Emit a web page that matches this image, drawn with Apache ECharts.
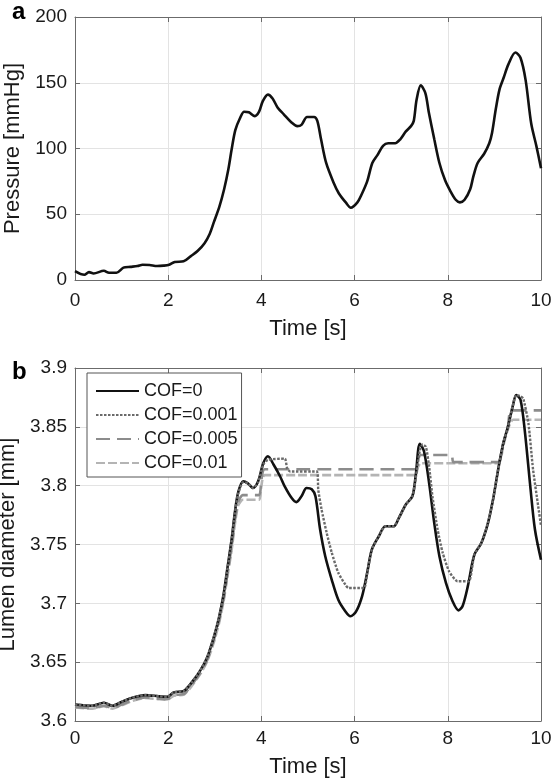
<!DOCTYPE html>
<html>
<head>
<meta charset="utf-8">
<script src="https://cdn.jsdelivr.net/npm/echarts@6/dist/echarts.min.js"></script>
<style>
html,body{margin:0;padding:0;background:#fff;}
#chart{width:551px;height:782px;}
</style>
</head>
<body>
<div id="chart"></div>
<script>
// ---------- data ----------
const xTicks = [0, 2, 4, 6, 8, 10];
const pressureTicks = [0, 50, 100, 150, 200];
const diameterTicks = [3.6, 3.65, 3.7, 3.75, 3.8, 3.85, 3.9];

const pressureTime = [0,0.2,0.3,0.4,0.62,0.73,0.89,1.04,1.19,1.34,1.45,1.6,1.76,1.9,2.02,2.14,2.33,2.48,2.63,2.78,2.89,2.98,3.1,3.2,3.29,3.36,3.44,3.54,3.63,3.73,3.86,3.95,4.03,4.14,4.24,4.35,4.48,4.64,4.77,4.86,4.98,5.13,5.2,5.28,5.39,5.55,5.66,5.81,5.92,6.06,6.15,6.27,6.38,6.49,6.61,6.72,6.87,6.98,7.1,7.21,7.27,7.33,7.42,7.52,7.59,7.71,7.82,7.94,8.05,8.17,8.26,8.36,8.48,8.55,8.64,8.78,8.89,8.95,9.03,9.11,9.2,9.3,9.45,9.56,9.67,9.79,9.9,10];
const pressureValues = [6.8,4,6,5,7,5.5,5.5,9.4,10,10.6,11.6,11.4,10.6,10.9,11.6,13.7,14.2,18,22,28,35,44,56,69,84,99,114,123,128,127.6,124.6,128,136,141,138,131,126,120,117,118,124,124,121,107,89,74,66,59,55,59,65,75,89,95,102,104,104,107,113,117,121,137,148,142,128,107,89,76,68,61,59,61,69,79,89,96,104,112,130,145,154,164,173,169,152,119,102,85];

const cof0Time = [0,0.37,0.62,0.8,1.01,1.23,1.51,1.8,1.98,2.12,2.34,2.51,2.69,2.84,2.98,3.09,3.19,3.26,3.36,3.43,3.5,3.61,3.71,3.82,3.93,4.04,4.14,4.26,4.4,4.5,4.65,4.75,4.86,4.97,5.08,5.16,5.26,5.37,5.51,5.65,5.8,5.91,6.03,6.16,6.27,6.37,6.52,6.66,6.84,6.95,7.1,7.24,7.31,7.4,7.49,7.6,7.71,7.82,7.96,8.1,8.23,8.32,8.43,8.57,8.72,8.86,8.97,9.08,9.19,9.29,9.39,9.47,9.56,9.65,9.77,9.87,10];
const cof0Values = [3.614,3.613,3.6155,3.613,3.6164,3.6198,3.622,3.621,3.6206,3.6243,3.6257,3.633,3.643,3.6545,3.6715,3.688,3.708,3.727,3.754,3.777,3.794,3.8037,3.802,3.798,3.8037,3.819,3.825,3.818,3.808,3.7994,3.7895,3.786,3.791,3.798,3.797,3.791,3.7627,3.74,3.72,3.703,3.6933,3.689,3.693,3.706,3.726,3.7457,3.757,3.7655,3.7655,3.7726,3.784,3.791,3.808,3.8356,3.829,3.802,3.768,3.74,3.7174,3.702,3.694,3.698,3.7146,3.7414,3.7513,3.768,3.788,3.8136,3.836,3.85,3.867,3.877,3.873,3.8475,3.7994,3.7627,3.737];

const cof001Time = [0,0.37,0.62,0.8,1.01,1.23,1.51,1.8,1.98,2.12,2.34,2.51,2.69,2.84,2.98,3.09,3.19,3.26,3.36,3.43,3.5,3.61,3.71,3.82,3.93,4.04,4.14,4.5,4.55,4.62,5.19,5.22,5.29,5.4,5.51,5.65,5.8,5.87,6.2,6.27,6.37,6.52,6.66,6.84,6.95,7.1,7.24,7.31,7.4,7.46,7.53,7.6,7.67,7.78,7.89,8.03,8.21,8.45,8.57,8.72,8.86,8.97,9.08,9.19,9.29,9.39,9.47,9.56,9.62,9.73,9.83,9.94,10];
const cof001Values = [3.614,3.613,3.6155,3.613,3.6164,3.6198,3.622,3.621,3.6206,3.6243,3.6257,3.633,3.643,3.6545,3.6715,3.688,3.707,3.726,3.753,3.776,3.793,3.803,3.802,3.798,3.803,3.818,3.822,3.823,3.815,3.812,3.812,3.7966,3.78,3.76,3.743,3.726,3.716,3.713,3.713,3.726,3.7457,3.757,3.7655,3.7655,3.7726,3.784,3.791,3.806,3.83,3.835,3.833,3.816,3.791,3.763,3.743,3.727,3.7188,3.7188,3.7414,3.7513,3.768,3.788,3.8136,3.836,3.85,3.867,3.877,3.876,3.874,3.853,3.8136,3.7825,3.766];

const cof005Time = [0,0.37,0.62,0.8,1.01,1.23,1.51,1.8,1.98,2.12,2.34,2.51,2.69,2.84,2.98,3.09,3.19,3.26,3.36,3.43,3.5,3.6,3.95,4.0,4.07,7.3,7.36,7.42,8.08,8.12,9.08,9.19,9.29,9.36,10];
const cof005Values = [3.612,3.611,3.613,3.611,3.614,3.6175,3.62,3.619,3.6185,3.622,3.623,3.631,3.641,3.652,3.669,3.685,3.704,3.722,3.748,3.77,3.786,3.792,3.792,3.805,3.814,3.814,3.822,3.826,3.826,3.82,3.82,3.836,3.85,3.864,3.864];

const cof01Time = [0,0.37,0.62,0.8,1.01,1.23,1.51,1.8,1.98,2.12,2.34,2.51,2.69,2.84,2.98,3.09,3.19,3.26,3.36,3.43,3.5,3.6,3.95,4.0,4.07,7.3,7.36,7.42,9.08,9.19,9.29,9.4,10];
const cof01Values = [3.6115,3.6105,3.6125,3.6105,3.6135,3.617,3.6195,3.6185,3.618,3.6215,3.6225,3.63,3.64,3.651,3.667,3.683,3.702,3.72,3.745,3.767,3.783,3.788,3.788,3.8,3.809,3.809,3.816,3.819,3.819,3.834,3.848,3.856,3.856];

const legendNames = ['COF=0', 'COF=0.001', 'COF=0.005', 'COF=0.01'];

// ---------- chart ----------
const pair = (t, v) => t.map((x, i) => [x, v[i]]);
const FONT = 'Liberation Sans, Arial, Helvetica, sans-serif';
const AX = '#6b6b6b';
const TXT = '#1a1a1a';

function xAxisMain(gridIndex, labelMargin, nameGap) {
  return {
    type: 'value', gridIndex, min: xTicks[0], max: xTicks[xTicks.length - 1], interval: 2,
    name: 'Time [s]', nameLocation: 'middle', nameGap,
    nameTextStyle: { fontFamily: FONT, fontSize: 22, color: TXT },
    axisLine: { show: true, onZero: false, lineStyle: { color: AX, width: 1 } },
    axisTick: { show: true, inside: true, length: 5, lineStyle: { color: AX } },
    axisLabel: { fontFamily: FONT, fontSize: 19, color: TXT, margin: labelMargin },
    splitLine: { show: true, lineStyle: { color: '#e3e3e3', width: 1 } }
  };
}
function xAxisTop(gridIndex) {
  return {
    type: 'value', gridIndex, position: 'top', min: 0, max: 10, interval: 2,
    axisLine: { show: true, onZero: false, lineStyle: { color: AX, width: 1 } },
    axisTick: { show: true, inside: true, length: 5, lineStyle: { color: AX } },
    axisLabel: { show: false }, splitLine: { show: false }
  };
}
function yAxisMain(gridIndex, min, max, interval, name, fmt) {
  return {
    type: 'value', gridIndex, min, max, interval,
    name, nameLocation: 'middle', nameGap: 47,
    nameTextStyle: { fontFamily: FONT, fontSize: 22, color: TXT },
    axisLine: { show: true, onZero: false, lineStyle: { color: AX, width: 1 } },
    axisTick: { show: true, inside: true, length: 5, lineStyle: { color: AX } },
    axisLabel: { fontFamily: FONT, fontSize: 19, color: TXT, margin: 8, formatter: fmt },
    splitLine: { show: true, lineStyle: { color: '#e3e3e3', width: 1 } }
  };
}
function yAxisRight(gridIndex, min, max, interval) {
  return {
    type: 'value', gridIndex, position: 'right', min, max, interval,
    axisLine: { show: true, onZero: false, lineStyle: { color: AX, width: 1 } },
    axisTick: { show: true, inside: true, length: 5, lineStyle: { color: AX } },
    axisLabel: { show: false }, splitLine: { show: false }
  };
}

const chart = echarts.init(document.getElementById('chart'), null, { renderer: 'canvas' });
const option = {
  animation: false,
  backgroundColor: '#ffffff',
  textStyle: { fontFamily: FONT },
  grid: [
    { left: 75, right: 10, top: 17, height: 263, containLabel: false, outerBoundsMode: 'none' },
    { left: 75, right: 10, top: 368, height: 353, containLabel: false, outerBoundsMode: 'none' }
  ],
  xAxis: [xAxisMain(0, 11, 38), xAxisTop(0), xAxisMain(1, 8, 35), xAxisTop(1)],
  yAxis: [
    yAxisMain(0, pressureTicks[0], pressureTicks[pressureTicks.length - 1], 50, 'Pressure [mmHg]', v => String(v)),
    yAxisRight(0, 0, 200, 50),
    yAxisMain(1, diameterTicks[0], diameterTicks[diameterTicks.length - 1], 0.05, 'Lumen diameter [mm]', v => String(+v.toFixed(2))),
    yAxisRight(1, 3.6, 3.9, 0.05)
  ],
  legend: {
    data: legendNames,
    orient: 'vertical', left: 87, top: 373,
    backgroundColor: '#ffffff',
    borderColor: '#555', borderWidth: 1, borderRadius: 0,
    padding: [8, 4, 4, 8],
    itemWidth: 43, itemHeight: 20, itemGap: 4,
    itemStyle: { opacity: 0 },
    textStyle: { fontFamily: FONT, fontSize: 18, color: TXT, lineHeight: 20 },
    selectedMode: false
  },
  series: [
    { name: 'Pressure', type: 'line', xAxisIndex: 0, yAxisIndex: 0, data: pair(pressureTime, pressureValues),
      symbol: 'none', smooth: 0.3, lineStyle: { color: '#111', width: 2.6 } },
    { name: legendNames[3], type: 'line', xAxisIndex: 2, yAxisIndex: 2, data: pair(cof01Time, cof01Values),
      symbol: 'none', smooth: 0.2, lineStyle: { color: '#b4b4b4', width: 2.6, type: [9, 3] }, itemStyle: { color: '#b4b4b4' }, z: 2 },
    { name: legendNames[2], type: 'line', xAxisIndex: 2, yAxisIndex: 2, data: pair(cof005Time, cof005Values),
      symbol: 'none', smooth: 0.2, lineStyle: { color: '#8c8c8c', width: 2.6, type: [14, 7] }, itemStyle: { color: '#8c8c8c' }, z: 3 },
    { name: legendNames[0], type: 'line', xAxisIndex: 2, yAxisIndex: 2, data: pair(cof0Time, cof0Values),
      symbol: 'none', smooth: 0.3, lineStyle: { color: '#111', width: 2.6 }, itemStyle: { color: '#111' }, z: 4 },
    { name: legendNames[1], type: 'line', xAxisIndex: 2, yAxisIndex: 2, data: pair(cof001Time, cof001Values),
      symbol: 'none', smooth: 0.2, lineStyle: { color: '#6a6a6a', width: 2.4, type: [2.5, 1.5] }, itemStyle: { color: '#6a6a6a' }, z: 5 }
  ],
  graphic: [
    { type: 'text', left: 12, top: 0, style: { text: 'a', font: 'bold 24px ' + FONT, fill: '#000' } },
    { type: 'text', left: 12, top: 360, style: { text: 'b', font: 'bold 24px ' + FONT, fill: '#000' } }
  ]
};
chart.setOption(option);
</script>
</body>
</html>
